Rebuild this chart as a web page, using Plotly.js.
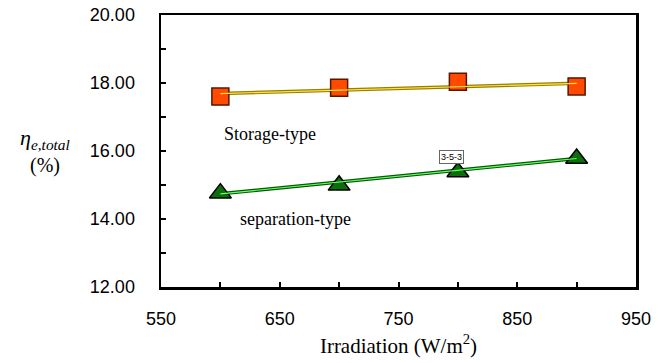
<!DOCTYPE html>
<html>
<head>
<meta charset="utf-8">
<script src="https://cdn.plot.ly/plotly-3.0.1.min.js"></script>
<style>html,body{margin:0;padding:0;background:#fff;}#chart{width:666px;height:363px;}</style>
</head>
<body>
<div id="chart"></div>
<script>
// Data
const irradiation = [600, 700, 800, 900];
const storageType = [17.60, 17.86, 18.04, 17.90];
const separationType = [14.76, 14.99, 15.38, 15.78];
const fitX = [600, 900];
const storageFit = [17.69, 17.99];
const separationFit = [14.74, 15.78];
const yTicks = [12, 14, 16, 18, 20];
const xTicks = [550, 650, 750, 850, 950];

const traces = [
  {x: fitX, y: storageFit, mode: 'lines', line: {color: '#9a7d00', width: 3.5}, hoverinfo: 'skip'},
  {x: irradiation, y: storageType, mode: 'markers',
   marker: {symbol: 'square', size: 17, color: '#ff4a00', line: {color: '#5a1500', width: 1.5}}},
  {x: fitX, y: storageFit, mode: 'lines', line: {color: '#ffe640', width: 1.2}, hoverinfo: 'skip'},
  {x: fitX, y: separationFit, mode: 'lines', line: {color: '#005a00', width: 3.5}, hoverinfo: 'skip'},
  {x: irradiation, y: separationType, mode: 'markers',
   marker: {symbol: 'triangle-up', size: 19, color: '#0d6e0d', line: {color: '#000', width: 1.5}}},
  {x: fitX, y: separationFit, mode: 'lines', line: {color: '#66ff66', width: 1.2}, hoverinfo: 'skip'}
];

const layout = {
  width: 666, height: 363,
  margin: {l: 161, r: 30, t: 15, b: 76},
  paper_bgcolor: '#fff', plot_bgcolor: '#fff',
  showlegend: false,
  xaxis: {
    range: [550, 950], tickvals: xTicks, ticktext: xTicks.map(String),
    ticks: 'inside', ticklen: 5, tickwidth: 2, tickcolor: '#000',
    minor: {tickvals: [600, 700, 800, 900], ticks: 'inside', ticklen: 5, tickwidth: 2, tickcolor: '#000'},
    showline: true, linecolor: '#000', linewidth: 2.5, mirror: true,
    showgrid: false, zeroline: false,
    tickfont: {family: 'Liberation Sans, Arial', size: 18, color: '#000'},
    ticklabelstandoff: 14,
    title: {text: 'Irradiation (W/m<sup>2</sup>)', font: {family: 'Liberation Serif, Times New Roman', size: 21, color: '#000'}, standoff: 10}
  },
  yaxis: {
    range: [12, 20], tickvals: yTicks, ticktext: yTicks.map(v => v.toFixed(2)),
    ticks: 'inside', ticklen: 5, tickwidth: 2, tickcolor: '#000',
    minor: {tickvals: [13, 15, 17, 19], ticks: 'inside', ticklen: 5, tickwidth: 2, tickcolor: '#000'},
    showline: true, linecolor: '#000', linewidth: 2.5, mirror: true,
    showgrid: false, zeroline: false,
    tickfont: {family: 'Liberation Sans, Arial', size: 18, color: '#000'},
    ticklabelstandoff: 20
  },
  annotations: [
    {xref: 'paper', yref: 'paper', x: -0.245, y: 0.545, xanchor: 'center', yanchor: 'middle', showarrow: false,
     text: '<i>η<sub>e,total</sub></i>', font: {family: 'Liberation Serif, Times New Roman', size: 22, color: '#000'}},
    {xref: 'paper', yref: 'paper', x: -0.245, y: 0.445, xanchor: 'center', yanchor: 'middle', showarrow: false,
     text: '(%)', font: {family: 'Liberation Serif, Times New Roman', size: 20, color: '#000'}},
    {x: 601, y: 16.5, xanchor: 'left', yanchor: 'middle', showarrow: false,
     text: 'Storage-type', font: {family: 'Liberation Serif, Times New Roman', size: 18, color: '#000'}},
    {x: 615, y: 14.0, xanchor: 'left', yanchor: 'middle', showarrow: false,
     text: 'separation-type', font: {family: 'Liberation Serif, Times New Roman', size: 18, color: '#000'}},
    {x: 794.5, y: 15.82, xanchor: 'center', yanchor: 'middle', showarrow: false,
     text: '3-5-3', font: {family: 'Liberation Sans, Arial', size: 9, color: '#000'},
     bgcolor: '#fff', bordercolor: '#666', borderwidth: 1, borderpad: 1}
  ]
};

Plotly.newPlot('chart', traces, layout, {displayModeBar: false, staticPlot: true});
</script>
</body>
</html>
